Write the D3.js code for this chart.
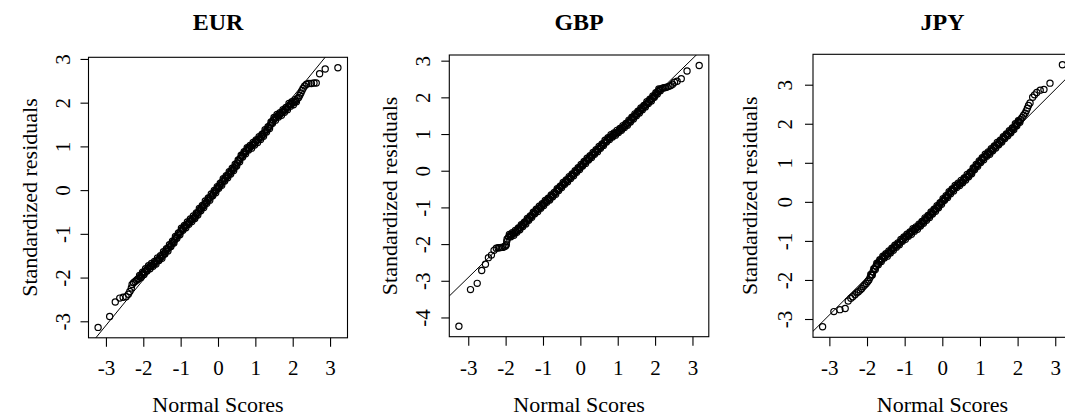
<!DOCTYPE html>
<html><head><meta charset="utf-8">
<script src="https://cdn.jsdelivr.net/npm/d3@7"></script>
<style>body{margin:0;background:#fff}</style>
</head><body>
<svg id="c" width="1065" height="418"></svg>
<script>
const titles = ["EUR", "GBP", "JPY"];
const xLabel = "Normal Scores";
const yLabel = "Standardized residuals";
const xTickVals = [-3, -2, -1, 0, 1, 2, 3];
const yTickVals = [[-3,-2,-1,0,1,2,3], [-4,-3,-2,-1,0,1,2,3], [-3,-2,-1,0,1,2,3]];
const lineIntercept = [0.04, 0.07, -0.01];
const lineSlope = [1.045, 0.994, 0.962];

// [normal score, standardized residual]
const eurPoints = [
[-3.21,-3.14],[-2.90,-2.89],[-2.75,-2.56],[-2.63,-2.47],[-2.54,-2.45],[-2.46,-2.44],[-2.40,-2.38],[-2.36,-2.32],[-2.32,-2.24],[-2.30,-2.16],[-2.26,-2.12],[-2.22,-2.09],[-2.18,-2.06],[-2.15,-2.04],
[-2.12,-2.02],[-2.08,-1.98],[-2.04,-1.94],[-2.00,-1.90],[-1.96,-1.87],[-1.92,-1.83],[-1.88,-1.79],[-1.84,-1.76],[-1.80,-1.74],[-1.76,-1.72],[-1.72,-1.69],[-1.68,-1.66],[-1.64,-1.62],[-1.60,-1.59],[-1.56,-1.56],[-1.52,-1.53],[-1.48,-1.49],[-1.44,-1.44],[-1.40,-1.40],[-1.36,-1.36],[-1.32,-1.32],[-1.28,-1.28],[-1.24,-1.23],[-1.20,-1.19],[-1.16,-1.14],[-1.12,-1.09],[-1.08,-1.04],[-1.04,-1.00],[-1.00,-0.95],[-0.96,-0.90],[-0.92,-0.87],[-0.88,-0.83],[-0.84,-0.80],[-0.80,-0.76],[-0.76,-0.72],[-0.72,-0.69],[-0.68,-0.66],[-0.64,-0.63],[-0.60,-0.59],[-0.56,-0.54],[-0.52,-0.50],[-0.48,-0.45],[-0.44,-0.41],[-0.40,-0.37],[-0.36,-0.33],[-0.32,-0.28],[-0.28,-0.24],[-0.24,-0.20],[-0.20,-0.16],[-0.16,-0.12],[-0.12,-0.07],[-0.08,-0.03],[-0.04,0.01],[0.00,0.06],[0.04,0.10],[0.08,0.14],[0.12,0.19],[0.16,0.23],[0.20,0.27],[0.24,0.31],[0.28,0.35],[0.32,0.39],[0.36,0.44],[0.40,0.48],[0.44,0.52],[0.48,0.57],[0.52,0.62],[0.56,0.68],[0.60,0.73],[0.64,0.78],[0.68,0.82],[0.72,0.86],[0.76,0.90],[0.80,0.95],[0.84,0.97],[0.88,1.00],[0.92,1.03],[0.96,1.06],[1.00,1.09],[1.04,1.13],[1.08,1.16],[1.12,1.19],[1.16,1.22],[1.20,1.26],[1.24,1.31],[1.28,1.35],[1.32,1.39],[1.36,1.44],[1.40,1.49],[1.44,1.54],[1.48,1.60],[1.52,1.64],[1.56,1.67],[1.60,1.70],[1.64,1.72],[1.68,1.75],[1.72,1.78],[1.76,1.81],[1.80,1.84],[1.84,1.87],[1.88,1.91],[1.92,1.95],[1.96,1.97],[2.00,1.99],[2.04,2.01],[2.08,2.04],[2.12,2.09],
[2.16,2.12],[2.19,2.17],[2.22,2.22],[2.25,2.28],[2.28,2.33],[2.32,2.38],[2.37,2.42],[2.43,2.44],[2.50,2.44],[2.57,2.45],[2.63,2.45],[2.72,2.66],[2.87,2.77],[3.21,2.80]
];
const eurPointsB = [
[-2.10,-1.95],[-2.06,-2.00],[-2.02,-1.88],[-1.98,-1.93],[-1.94,-1.80],[-1.90,-1.85],[-1.86,-1.73],[-1.82,-1.80],[-1.78,-1.68],[-1.74,-1.74],[-1.70,-1.63],[-1.66,-1.69],[-1.62,-1.55],[-1.58,-1.61],[-1.54,-1.50],[-1.50,-1.56],[-1.46,-1.41],[-1.42,-1.46],[-1.38,-1.34],[-1.34,-1.39],[-1.30,-1.25],[-1.26,-1.29],[-1.22,-1.17],[-1.18,-1.21],[-1.14,-1.06],[-1.10,-1.10],[-1.06,-0.98],[-1.02,-1.02],[-0.98,-0.87],[-0.94,-0.92],[-0.90,-0.81],[-0.86,-0.86],[-0.82,-0.73],[-0.78,-0.78],[-0.74,-0.66],[-0.70,-0.72],[-0.66,-0.59],[-0.62,-0.65],[-0.58,-0.52],[-0.54,-0.57],[-0.50,-0.42],[-0.46,-0.47],[-0.42,-0.35],[-0.38,-0.40],[-0.34,-0.25],[-0.30,-0.30],[-0.26,-0.18],[-0.22,-0.23],[-0.18,-0.09],[-0.14,-0.13],[-0.10,-0.01],[-0.06,-0.06],[-0.02,0.08],[0.02,0.04],[0.06,0.16],[0.10,0.11],[0.14,0.26],[0.18,0.21],[0.22,0.33],[0.26,0.28],[0.30,0.42],[0.34,0.37],[0.38,0.50],[0.42,0.45],[0.46,0.59],[0.50,0.55],[0.54,0.69],[0.58,0.65],[0.62,0.80],[0.66,0.76],[0.70,0.88],[0.74,0.83],[0.78,0.97],[0.82,0.92],[0.86,1.02],[0.90,0.96],[0.94,1.09],[0.98,1.03],[1.02,1.15],[1.06,1.09],[1.10,1.22],[1.14,1.16],[1.18,1.28],[1.22,1.23],[1.26,1.38],[1.30,1.33],[1.34,1.45],[1.38,1.41],[1.42,1.56],[1.46,1.53],[1.50,1.66],[1.54,1.60],[1.58,1.73],[1.62,1.67],[1.66,1.77],[1.70,1.71],[1.74,1.84],[1.78,1.78],[1.82,1.89],[1.86,1.84],[1.90,1.98],[1.94,1.92],[1.98,2.02],[2.02,1.95],[2.06,2.07],[2.10,2.02]
];

const gbpPoints = [
[-3.25,-4.24],[-2.94,-3.24],[-2.76,-3.07],[-2.64,-2.72],[-2.54,-2.55],[-2.46,-2.37],[-2.38,-2.30],[-2.31,-2.17],[-2.25,-2.11],[-2.20,-2.10],[-2.16,-2.10],[-2.12,-2.09],[-2.08,-2.09],[-2.04,-2.07],[-2.00,-2.05],[-1.98,-2.02],[-1.97,-1.93],[-1.96,-1.86],
[-1.92,-1.81],[-1.88,-1.77],[-1.84,-1.74],[-1.80,-1.72],[-1.76,-1.70],[-1.72,-1.66],[-1.68,-1.62],[-1.64,-1.58],[-1.60,-1.54],[-1.56,-1.50],[-1.52,-1.46],[-1.48,-1.42],[-1.44,-1.37],[-1.40,-1.33],[-1.36,-1.29],[-1.32,-1.24],[-1.28,-1.20],[-1.24,-1.15],[-1.20,-1.11],[-1.16,-1.07],[-1.12,-1.04],[-1.08,-1.00],[-1.04,-0.96],[-1.00,-0.92],[-0.96,-0.88],[-0.92,-0.84],[-0.88,-0.80],[-0.84,-0.77],[-0.80,-0.73],[-0.76,-0.69],[-0.72,-0.65],[-0.68,-0.61],[-0.64,-0.56],[-0.60,-0.52],[-0.56,-0.48],[-0.52,-0.43],[-0.48,-0.39],[-0.44,-0.35],[-0.40,-0.31],[-0.36,-0.27],[-0.32,-0.23],[-0.28,-0.19],[-0.24,-0.15],[-0.20,-0.11],[-0.16,-0.07],[-0.12,-0.02],[-0.08,0.02],[-0.04,0.06],[0.00,0.10],[0.04,0.14],[0.08,0.19],[0.12,0.23],[0.16,0.27],[0.20,0.31],[0.24,0.35],[0.28,0.39],[0.32,0.43],[0.36,0.47],[0.40,0.51],[0.44,0.55],[0.48,0.59],[0.52,0.63],[0.56,0.67],[0.60,0.71],[0.64,0.76],[0.68,0.80],[0.72,0.84],[0.76,0.88],[0.80,0.91],[0.84,0.94],[0.88,0.97],[0.92,1.00],[0.96,1.03],[1.00,1.06],[1.04,1.09],[1.08,1.13],[1.12,1.16],[1.16,1.20],[1.20,1.23],[1.24,1.27],[1.28,1.31],[1.32,1.35],[1.36,1.39],[1.40,1.44],[1.44,1.48],[1.48,1.52],[1.52,1.56],[1.56,1.60],[1.60,1.64],[1.64,1.68],[1.68,1.72],[1.72,1.76],[1.76,1.81],[1.80,1.85],[1.84,1.89],[1.88,1.93],[1.92,1.97],[1.96,2.01],[2.00,2.06],[2.04,2.11],[2.08,2.16],[2.12,2.20],[2.16,2.23],
[2.20,2.25],[2.24,2.26],[2.28,2.27],[2.32,2.28],[2.37,2.30],[2.42,2.32],[2.47,2.36],[2.52,2.41],[2.59,2.44],[2.70,2.51],[2.855,2.72],[3.18,2.87]
];
const gbpPointsB = [
[-1.90,-1.74],[-1.86,-1.80],[-1.82,-1.69],[-1.78,-1.76],[-1.74,-1.63],[-1.70,-1.68],[-1.66,-1.56],[-1.62,-1.61],[-1.58,-1.47],[-1.54,-1.52],[-1.50,-1.40],[-1.46,-1.45],[-1.42,-1.30],[-1.38,-1.35],[-1.34,-1.23],[-1.30,-1.27],[-1.26,-1.13],[-1.22,-1.17],[-1.18,-1.05],[-1.14,-1.11],[-1.10,-0.97],[-1.06,-1.02],[-1.02,-0.90],[-0.98,-0.95],[-0.94,-0.81],[-0.90,-0.86],[-0.86,-0.75],[-0.82,-0.80],[-0.78,-0.66],[-0.74,-0.71],[-0.70,-0.59],[-0.66,-0.64],[-0.62,-0.49],[-0.58,-0.54],[-0.54,-0.42],[-0.50,-0.46],[-0.46,-0.32],[-0.42,-0.37],[-0.38,-0.25],[-0.34,-0.30],[-0.30,-0.16],[-0.26,-0.21],[-0.22,-0.09],[-0.18,-0.14],[-0.14,0.00],[-0.10,-0.04],[-0.06,0.08],[-0.02,0.03],[0.02,0.17],[0.06,0.13],[0.10,0.25],[0.14,0.20],[0.18,0.34],[0.22,0.29],[0.26,0.41],[0.30,0.36],[0.34,0.50],[0.38,0.45],[0.42,0.57],[0.46,0.52],[0.50,0.66],[0.54,0.61],[0.58,0.73],[0.62,0.69],[0.66,0.83],[0.70,0.78],[0.74,0.90],[0.78,0.85],[0.82,0.98],[0.86,0.92],[0.90,1.03],[0.94,0.97],[0.98,1.10],[1.02,1.04],[1.06,1.15],[1.10,1.10],[1.14,1.23],[1.18,1.18],[1.22,1.29],[1.26,1.24],[1.30,1.38],[1.34,1.33],[1.38,1.46],[1.42,1.41],[1.46,1.55],[1.50,1.50],[1.54,1.62],[1.58,1.57],[1.62,1.71],[1.66,1.66],[1.70,1.78],[1.74,1.74],[1.78,1.88],[1.82,1.83],[1.86,1.95],[1.90,1.90],[1.94,2.04],[1.98,2.00],[2.02,2.13],[2.06,2.09],[2.10,2.23],[2.14,2.18]
];

const jpyPoints = [
[-3.18,-3.20],[-2.88,-2.81],[-2.72,-2.76],[-2.58,-2.73],[-2.50,-2.54],[-2.43,-2.47],[-2.38,-2.43],[-2.32,-2.38],[-2.27,-2.33],[-2.23,-2.30],[-2.18,-2.26],[-2.14,-2.22],[-2.10,-2.17],[-2.06,-2.13],[-2.02,-2.09],[-1.98,-2.04],[-1.95,-2.00],
[-1.92,-1.94],[-1.88,-1.87],[-1.84,-1.79],[-1.80,-1.71],[-1.76,-1.64],[-1.72,-1.59],[-1.68,-1.54],[-1.64,-1.50],[-1.60,-1.46],[-1.56,-1.42],[-1.52,-1.38],[-1.48,-1.35],[-1.44,-1.33],[-1.40,-1.29],[-1.36,-1.25],[-1.32,-1.21],[-1.28,-1.17],[-1.24,-1.14],[-1.20,-1.10],[-1.16,-1.07],[-1.12,-1.03],[-1.08,-0.99],[-1.04,-0.95],[-1.00,-0.92],[-0.96,-0.89],[-0.92,-0.86],[-0.88,-0.82],[-0.84,-0.79],[-0.80,-0.76],[-0.76,-0.72],[-0.72,-0.69],[-0.68,-0.66],[-0.64,-0.63],[-0.60,-0.60],[-0.56,-0.56],[-0.52,-0.52],[-0.48,-0.48],[-0.44,-0.44],[-0.40,-0.41],[-0.36,-0.37],[-0.32,-0.33],[-0.28,-0.29],[-0.24,-0.25],[-0.20,-0.21],[-0.16,-0.17],[-0.12,-0.13],[-0.08,-0.08],[-0.04,-0.03],[0.00,0.01],[0.04,0.05],[0.08,0.10],[0.12,0.14],[0.16,0.18],[0.20,0.23],[0.24,0.27],[0.28,0.31],[0.32,0.35],[0.36,0.39],[0.40,0.42],[0.44,0.45],[0.48,0.48],[0.52,0.51],[0.56,0.55],[0.60,0.59],[0.64,0.63],[0.68,0.66],[0.72,0.70],[0.76,0.74],[0.80,0.79],[0.84,0.84],[0.88,0.89],[0.92,0.94],[0.96,0.98],[1.00,1.02],[1.04,1.07],[1.08,1.11],[1.12,1.15],[1.16,1.19],[1.20,1.22],[1.24,1.25],[1.28,1.29],[1.32,1.33],[1.36,1.37],[1.40,1.41],[1.44,1.45],[1.48,1.48],[1.52,1.52],[1.56,1.56],[1.60,1.60],[1.64,1.64],[1.68,1.68],[1.72,1.72],[1.76,1.75],[1.80,1.79],[1.84,1.83],[1.88,1.87],[1.92,1.92],[1.96,1.97],[2.00,2.01],[2.04,2.06],[2.08,2.11],
[2.12,2.16],[2.16,2.22],[2.20,2.27],[2.23,2.33],[2.26,2.40],[2.29,2.47],[2.33,2.53],[2.40,2.68],[2.45,2.74],[2.51,2.80],[2.60,2.86],[2.70,2.88],[2.86,3.04],[3.19,3.51]
];
const jpyPointsB = [
[-1.90,-1.86],[-1.86,-1.87],[-1.82,-1.71],[-1.78,-1.73],[-1.74,-1.57],[-1.70,-1.61],[-1.66,-1.48],[-1.62,-1.53],[-1.58,-1.39],[-1.54,-1.44],[-1.50,-1.33],[-1.46,-1.39],[-1.42,-1.26],[-1.38,-1.31],[-1.34,-1.19],[-1.30,-1.24],[-1.26,-1.11],[-1.22,-1.16],[-1.18,-1.05],[-1.14,-1.10],[-1.10,-0.96],[-1.06,-1.01],[-1.02,-0.90],[-0.98,-0.96],[-0.94,-0.83],[-0.90,-0.88],[-0.86,-0.77],[-0.82,-0.83],[-0.78,-0.69],[-0.74,-0.75],[-0.70,-0.64],[-0.66,-0.70],[-0.62,-0.57],[-0.58,-0.62],[-0.54,-0.50],[-0.50,-0.55],[-0.46,-0.41],[-0.42,-0.47],[-0.38,-0.35],[-0.34,-0.40],[-0.30,-0.26],[-0.26,-0.31],[-0.22,-0.19],[-0.18,-0.24],[-0.14,-0.10],[-0.10,-0.15],[-0.06,-0.02],[-0.02,-0.06],[0.02,0.08],[0.06,0.04],[0.10,0.16],[0.14,0.11],[0.18,0.26],[0.22,0.21],[0.26,0.33],[0.30,0.28],[0.34,0.42],[0.38,0.37],[0.42,0.48],[0.46,0.42],[0.50,0.55],[0.54,0.49],[0.58,0.61],[0.62,0.56],[0.66,0.70],[0.70,0.64],[0.74,0.76],[0.78,0.72],[0.82,0.87],[0.86,0.83],[0.90,0.96],[0.94,0.91],[0.98,1.05],[1.02,1.01],[1.06,1.13],[1.10,1.08],[1.14,1.22],[1.18,1.17],[1.22,1.28],[1.26,1.22],[1.30,1.36],[1.34,1.31],[1.38,1.43],[1.42,1.38],[1.46,1.52],[1.50,1.46],[1.54,1.58],[1.58,1.53],[1.62,1.67],[1.66,1.62],[1.70,1.74],[1.74,1.69],[1.78,1.82],[1.82,1.77],[1.86,1.89],[1.90,1.85],[1.94,2.00],[1.98,1.95],[2.02,2.08],[2.06,2.04]
];

const seriesPoints = [eurPoints.concat(eurPointsB), gbpPoints.concat(gbpPointsB), jpyPoints.concat(jpyPointsB)];

const layout = [
  {left: 88.5, top: 57.3, w: 259, h: 280.5, ylab: 51.5, ytick: 18.5},
  {left: 449.3, top: 55, w: 259.5, h: 281.7, ylab: 52.6, ytick: 19.3},
  {left: 813, top: 54.3, w: 259, h: 283, ylab: 56, ytick: 21}
];

const font = "'Liberation Serif','Times New Roman',Times,serif";
const svg = d3.select("#c").style("font-family", font);

seriesPoints.forEach((pts, i) => {
  const L = layout[i];
  const xe = d3.extent(pts, d => d[0]);
  const ye = d3.extent(pts, d => d[1]);
  const xp = (xe[1] - xe[0]) * 0.04, yp = (ye[1] - ye[0]) * 0.04;
  const x = d3.scaleLinear().domain([xe[0] - xp, xe[1] + xp]).range([L.left, L.left + L.w]);
  const y = d3.scaleLinear().domain([ye[0] - yp, ye[1] + yp]).range([L.top + L.h, L.top]);
  const g = svg.append("g");
  const cid = "clip" + i;
  svg.append("clipPath").attr("id", cid).append("rect")
    .attr("x", L.left).attr("y", L.top).attr("width", L.w).attr("height", L.h);

  g.append("g").selectAll("circle").data(pts).join("circle")
    .attr("cx", d => x(d[0])).attr("cy", d => y(d[1])).attr("r", 3.1)
    .attr("fill", "none").attr("stroke", "#000").attr("stroke-width", 1.2);

  const [x0, x1] = x.domain();
  g.append("line").attr("clip-path", `url(#${cid})`)
    .attr("x1", x(x0)).attr("y1", y(lineIntercept[i] + lineSlope[i] * x0))
    .attr("x2", x(x1)).attr("y2", y(lineIntercept[i] + lineSlope[i] * x1))
    .attr("stroke", "#000").attr("stroke-width", 1);

  g.append("rect").attr("x", L.left).attr("y", L.top).attr("width", L.w).attr("height", L.h)
    .attr("fill", "none").attr("stroke", "#000").attr("stroke-width", 1.1);

  const xa = g.append("g").attr("transform", `translate(0,${L.top + L.h})`)
    .call(d3.axisBottom(x).tickValues(xTickVals).tickSize(9).tickSizeOuter(0).tickFormat(d => String(d)));
  xa.select(".domain").remove();
  xa.selectAll(".tick line").attr("stroke", "#000").attr("stroke-width", 1.1);
  xa.selectAll(".tick text").attr("y", 375 - (L.top + L.h)).attr("dy", 0)
    .attr("fill", "#000").style("font-size", "21px").style("font-family", font);

  const ya = g.append("g").attr("transform", `translate(${L.left},0)`)
    .call(d3.axisLeft(y).tickValues(yTickVals[i]).tickSize(8).tickSizeOuter(0).tickFormat(d => String(d)));
  ya.select(".domain").remove();
  ya.selectAll(".tick line").attr("stroke", "#000").attr("stroke-width", 1.1);
  ya.selectAll(".tick text").attr("x", 0).attr("y", 0).attr("dy", 0)
    .attr("text-anchor", "middle")
    .attr("transform", `translate(${-L.ytick},0) rotate(-90)`)
    .attr("fill", "#000").style("font-size", "21px").style("font-family", font);

  svg.append("text").attr("x", L.left + L.w / 2).attr("y", 29.5)
    .attr("text-anchor", "middle").style("font-size", "24px").style("font-weight", "bold")
    .text(titles[i]);

  svg.append("text").attr("x", L.left + L.w / 2).attr("y", 412)
    .attr("text-anchor", "middle").style("font-size", "22px").text(xLabel);

  svg.append("text")
    .attr("transform", `translate(${L.left - L.ylab},${L.top + L.h / 2}) rotate(-90)`)
    .attr("text-anchor", "middle").style("font-size", "22px").text(yLabel);
});
</script>
</body></html>
